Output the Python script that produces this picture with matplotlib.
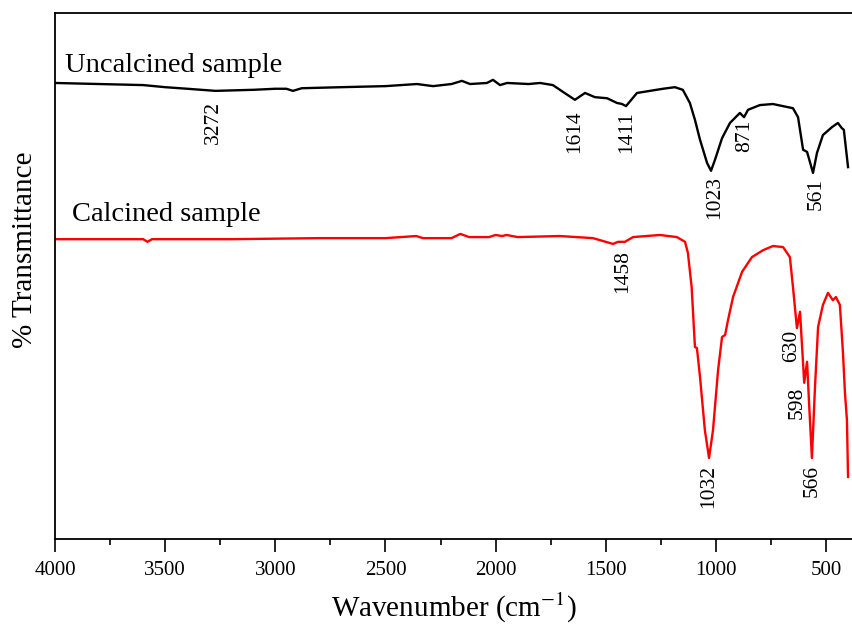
import numpy as np
import matplotlib
matplotlib.use('Agg')
import matplotlib.pyplot as plt
from matplotlib.ticker import MultipleLocator

plt.rcParams['font.family'] = ['Liberation Serif', 'DejaVu Serif']
plt.rcParams['mathtext.fontset'] = 'stix'

# uncalcined sample (black)
wn_unc = [4000, 3800, 3600, 3500, 3400, 3272, 3100, 3000, 2950, 2920, 2880, 2700,
          2500, 2357, 2284, 2200, 2153, 2116, 2039, 2012, 1980, 1948, 1850, 1798,
          1740, 1694, 1640, 1594, 1549, 1494, 1449, 1426, 1408, 1358, 1299, 1240,
          1186, 1150, 1118, 1095, 1072, 1040, 1022, 1004, 972, 936, 891, 872, 854,
          800, 741, 650, 627, 604, 586, 559, 541, 514, 473, 446, 428, 419, 400]
t_unc = [86.7, 86.5, 86.3, 85.9, 85.6, 85.2, 85.4, 85.6, 85.6, 85.2, 85.7, 85.9,
         86.1, 86.5, 86.1, 86.5, 87.1, 86.5, 86.7, 87.3, 86.3, 86.7, 86.5, 86.7,
         86.3, 85.0, 83.5, 84.8, 84.0, 83.8, 82.9, 82.7, 82.3, 84.8, 85.2, 85.6,
         85.9, 85.4, 82.9, 79.7, 75.9, 71.5, 70.0, 72.1, 76.2, 79.1, 81.0, 80.2, 81.6,
         82.5, 82.7, 81.9, 80.2, 74.0, 73.6, 69.6, 73.4, 76.8, 78.3, 79.1, 78.1, 77.8, 70.7]

# calcined sample (red)
wn_cal = [4000, 3700, 3600, 3580, 3560, 3200, 2800, 2500, 2360, 2330, 2200, 2160,
          2120, 2030, 2000, 1970, 1950, 1900, 1708, 1558, 1467, 1444, 1413, 1376,
          1254, 1177, 1140, 1127, 1110, 1095, 1086, 1072, 1050, 1031, 1013, 990,
          972, 958, 945, 922, 881, 836, 786, 741, 695, 664, 650, 632, 618, 605,
          599, 586, 577, 564, 550, 536, 514, 491, 469, 455, 437, 423, 414, 405, 400]
t_cal = [57.0, 57.0, 57.0, 56.5, 57.0, 57.0, 57.2, 57.2, 57.6, 57.2, 57.2, 58.0,
         57.4, 57.4, 57.8, 57.6, 57.8, 57.4, 57.6, 57.2, 56.1, 56.5, 56.5, 57.4,
         57.8, 57.4, 56.5, 54.4, 47.9, 36.5, 36.3, 30.8, 20.7, 15.4, 20.7, 32.1,
         38.4, 38.8, 41.6, 46.0, 50.8, 53.6, 54.9, 55.7, 55.5, 53.6, 47.9, 40.1, 43.2, 34.0,
         29.7, 33.7, 25.9, 15.4, 28.9, 40.3, 44.5, 46.8, 45.4, 46.0, 44.5, 35.4, 27.8, 22.6, 11.8]

# peak labels: text, x, y (centre)
peaks_unc = [('3272', 3283, 79.1), ('1614', 1640, 77.4), ('1411', 1404, 77.4),
             ('1023', 1004, 65.0), ('871', 868, 76.6), ('561', 546, 65.6)]
peaks_cal = [('1458', 1422, 50.8), ('1032', 1031, 9.9), ('630', 655, 36.7),
             ('598', 632, 25.9), ('566', 564, 11.0)]

fig = plt.figure(figsize=(8.52, 6.29), dpi=100)
ax = fig.add_axes([0.0646, 0.1431, 0.9354, 0.8362])

ax.plot(wn_unc, t_unc, color='black', lw=1.7)
ax.plot(wn_cal, t_cal, color='red', lw=1.7)

for txt, x, y in peaks_unc + peaks_cal:
    ax.text(x, y, txt, rotation=90, ha='center', va='center', fontsize=15.5)

ax.text(3955, 90.1, 'Uncalcined sample', fontsize=20.5, va='center')
ax.text(3923, 61.6, 'Calcined sample', fontsize=20.5, va='center')

ax.set_xlim(4000, 382)
ax.set_ylim(0, 100)
ax.xaxis.set_major_locator(MultipleLocator(500))
ax.xaxis.set_minor_locator(MultipleLocator(250))
ax.tick_params(axis='x', which='major', direction='out', length=9.5, width=1.2,
               labelsize=15, pad=6)
ax.tick_params(axis='x', which='minor', direction='out', length=4.5, width=1.2)
ax.set_yticks([])
ax.spines['right'].set_visible(False)
for s in ['left', 'top', 'bottom']:
    ax.spines[s].set_linewidth(1.3)

ax.set_xlabel('Wavenumber (cm$^{-1}$)', fontsize=21, labelpad=8)
ax.set_ylabel('% Transmittance', fontsize=21)
ax.yaxis.set_label_coords(-0.021, 0.55)

fig.savefig('out.png', dpi=100)
